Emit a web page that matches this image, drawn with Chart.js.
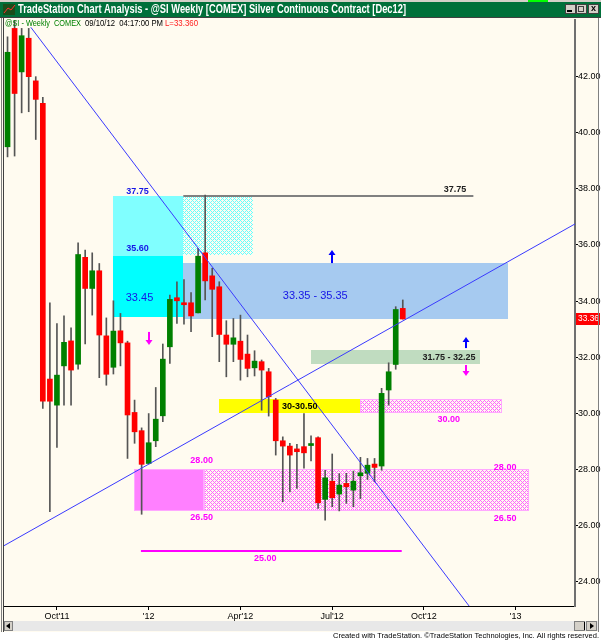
<!DOCTYPE html>
<html>
<head>
<meta charset="utf-8">
<title>@SI Weekly</title>
<script src="https://cdn.jsdelivr.net/npm/chart.js@4.4.0/dist/chart.umd.min.js"></script>
<style>
    html, body { margin: 0; padding: 0; background: #ffffff; }
    canvas { display: block; }
</style>
</head>
<body>
<canvas id="chart" width="601" height="640"></canvas>
<script>
"use strict";

// Weekly bars for @SI, index 0 = week of 15 Aug 2011, last = week of 10 Sep 2012
const opens = [39.50, 43.72, 42.17, 43.37, 41.85, 41.05, 31.22, 30.29, 31.69, 32.58,
    31.75, 35.56, 34.45, 35.08, 32.76, 31.64, 32.94, 32.51, 30.03, 29.38,
    28.21, 29.02, 29.91, 32.37, 34.12, 33.94, 33.94, 33.58, 35.72, 34.90,
    34.51, 32.79, 32.46, 32.57, 32.11, 31.62, 31.84, 31.48, 30.47, 29.02,
    28.83, 28.73, 28.81, 28.85, 29.13, 26.93, 27.58, 27.12, 27.50, 27.26,
    27.77, 27.86, 28.19, 28.12, 30.83, 31.74, 33.74];
const highs = [43.42, 44.00, 43.72, 43.72, 42.00, 41.26, 33.94, 33.20, 33.47, 33.05,
    36.08, 35.82, 35.72, 35.34, 33.40, 34.01, 33.56, 32.57, 30.47, 29.48,
    29.99, 30.92, 32.47, 34.21, 34.69, 34.77, 34.30, 35.88, 37.78, 35.17,
    34.69, 33.30, 33.38, 33.50, 32.79, 32.23, 31.90, 31.60, 30.53, 29.16,
    28.93, 28.89, 29.99, 29.20, 29.16, 27.97, 28.55, 27.85, 27.86, 27.94,
    28.43, 28.39, 28.39, 30.89, 31.80, 33.80, 34.04];
const lows = [39.14, 39.17, 40.71, 40.75, 39.76, 30.17, 26.49, 28.78, 30.29, 30.29,
    31.57, 32.47, 33.50, 31.27, 31.00, 31.40, 31.69, 28.39, 28.93, 26.40,
    28.19, 28.81, 29.70, 31.78, 33.20, 33.18, 32.91, 33.58, 34.04, 32.73,
    31.84, 31.30, 31.84, 31.18, 31.30, 31.33, 30.11, 29.90, 28.51, 26.85,
    27.20, 27.32, 28.04, 28.30, 26.61, 26.19, 26.67, 26.52, 26.79, 26.67,
    26.96, 27.64, 27.56, 27.97, 30.29, 31.57, 33.36];
const closes = [42.87, 41.40, 43.46, 42.00, 41.19, 30.43, 30.43, 31.36, 32.53, 31.54,
    35.66, 34.45, 35.08, 32.79, 31.39, 32.93, 32.51, 29.94, 29.34, 28.18,
    28.95, 29.79, 31.93, 34.06, 34.01, 33.87, 33.47, 35.60, 34.72, 34.42,
    32.81, 32.46, 32.69, 31.92, 31.60, 31.86, 31.54, 30.59, 29.02, 28.83,
    28.51, 28.63, 28.59, 28.87, 26.81, 27.70, 26.99, 27.44, 27.38, 27.58,
    27.88, 28.15, 28.07, 30.71, 31.48, 33.70, 33.36];

// Axis ticks (x in week index)
const xTickWeeks = [7, 20, 33, 46, 59, 72];
const xTickLabels = ["Oct'11", "'12", "Apr'12", "Jul'12", "Oct'12", "'13"];
const yTicks = [24, 26, 28, 30, 32, 34, 36, 38, 40, 42];

// Trend lines, [week, price]
const downTrend = [[3.3, 43.76], [70, 21.6]];
const upTrend = [[-0.5, 25.28], [80.4, 36.75]];

// Price levels of the zones
const cyanLevels = [37.75, 35.60, 33.45];
const resistZone = [33.35, 35.35];
const pivotZone = [31.75, 32.25];
const yellowZone = [30.00, 30.50];
const supportZone = [26.50, 28.00];
const topLine = 37.75;
const bottomLine = 25.10;
const lastPrice = 33.36;

const weeks = opens.map((_, i) => i);

// Rectangles: week span + price span
const zones = [
    { from: 15.0, to: 24.9, low: cyanLevels[1], high: cyanLevels[0], fill: "#80ffff" },
    { from: 15.0, to: 24.9, low: cyanLevels[2], high: cyanLevels[1], fill: "#00ffff" },
    { from: 24.9, to: 34.8, low: 35.65, high: cyanLevels[0], fill: "cyanHatch" },
    { from: 24.9, to: 70.95, low: resistZone[0], high: resistZone[1], fill: "#a6caf0" },
    { from: 43.0, to: 66.9, low: pivotZone[0], high: pivotZone[1], fill: "#c0dcc0" },
    { from: 30.0, to: 49.9, low: yellowZone[0], high: yellowZone[1], fill: "#ffff00" },
    { from: 49.9, to: 70.0, low: yellowZone[0], high: yellowZone[1], fill: "pinkHatch" },
    { from: 17.96, to: 27.9, low: supportZone[0], high: supportZone[1], fill: "#ff80ff" },
    { from: 27.9, to: 73.9, low: supportZone[0], high: supportZone[1], fill: "pinkHatch" }
];

const levelLines = [
    { from: 24.9, to: 66.0, price: topLine, color: "#808080", width: 2 },
    { from: 18.9, to: 55.85, price: bottomLine, color: "#ff00ff", width: 2 }
];

// Text notes: week, price, pixel nudge, baseline
const notes = [
    { text: "37.75", x: 18.4, p: cyanLevels[0], dy: 0, base: "bottom", color: "#1515e6", font: "bold 9px" },
    { text: "35.60", x: 18.4, p: cyanLevels[1], dy: -3, base: "bottom", color: "#1515e6", font: "bold 9px" },
    { text: "33.45", x: 18.7, p: 34.11, dy: 0, base: "middle", color: "#1515e6", font: "11px" },
    { text: "33.35 - 35.35", x: 43.6, p: 34.18, dy: 0, base: "middle", color: "#1515e6", font: "11px" },
    { text: "37.75", x: 63.4, p: topLine, dy: -2, base: "bottom", color: "#202020", font: "bold 9px" },
    { text: "31.75 - 32.25", x: 62.55, p: 32.0, dy: 0, base: "middle", color: "#202020", font: "bold 9px" },
    { text: "30-30.50", x: 41.4, p: 30.25, dy: 0, base: "middle", color: "#000000", font: "bold 9px" },
    { text: "30.00", x: 62.5, p: yellowZone[0], dy: 2, base: "top", color: "#ff00ff", font: "bold 9px" },
    { text: "28.00", x: 27.5, p: supportZone[1], dy: -4, base: "bottom", color: "#ff00ff", font: "bold 9px" },
    { text: "26.50", x: 27.5, p: supportZone[0], dy: 2, base: "top", color: "#ff00ff", font: "bold 9px" },
    { text: "28.00", x: 70.5, p: supportZone[1], dy: -2, base: "middle", color: "#ff00ff", font: "bold 9px" },
    { text: "26.50", x: 70.5, p: supportZone[0], dy: 7, base: "middle", color: "#ff00ff", font: "bold 9px" },
    { text: "25.00", x: 36.5, p: bottomLine, dy: 3, base: "top", color: "#ff00ff", font: "bold 9px" }
];

// Arrows: week, from price -> to price
const arrows = [
    { x: 46.0, from: 35.39, to: 35.82, color: "#0000ff" },
    { x: 64.96, from: 32.36, to: 32.72, color: "#0000ff" },
    { x: 64.96, from: 31.72, to: 31.33, color: "#ff00ff" },
    { x: 20.0, from: 32.90, to: 32.43, color: "#ff00ff" }
];

const FONT = "'Liberation Sans', Arial, sans-serif";

function makeHatch(color) {
    const c = document.createElement("canvas");
    c.width = 4;
    c.height = 4;
    const g = c.getContext("2d");
    g.fillStyle = "#fffbf0";
    g.fillRect(0, 0, 4, 4);
    g.fillStyle = color;
    for (let y = 0; y < 4; y++) {
        for (let x = 0; x < 4; x++) {
            if ((x + y) % 4 === 0 || (x - y + 4) % 4 === 0) g.fillRect(x, y, 1, 1);
        }
    }
    return c;
}

const overlays = {
    id: "overlays",
    beforeDraw(chart) {
        const ctx = chart.ctx;
        ctx.save();
        ctx.fillStyle = "#ffffff";
        ctx.fillRect(0, 0, chart.width, chart.height);
        ctx.fillStyle = "#fffbf0";
        ctx.fillRect(0, 18, 599, 614);
        ctx.restore();
    },
    beforeDatasetsDraw(chart) {
        const ctx = chart.ctx;
        const xs = chart.scales.x;
        const ys = chart.scales.y;
        const patterns = {
            pinkHatch: ctx.createPattern(makeHatch("#ff66ff"), "repeat"),
            cyanHatch: ctx.createPattern(makeHatch("#66ffff"), "repeat")
        };
        ctx.save();
        zones.forEach(z => {
            const x0 = Math.round(xs.getPixelForValue(z.from));
            const x1 = Math.round(xs.getPixelForValue(z.to));
            const y0 = Math.round(ys.getPixelForValue(z.high));
            const y1 = Math.round(ys.getPixelForValue(z.low));
            ctx.fillStyle = patterns[z.fill] || z.fill;
            ctx.fillRect(x0, y0, x1 - x0, y1 - y0);
            if (z.fill === "pinkHatch" || z.fill === "#ff80ff") {
                ctx.strokeStyle = "#ffa8ff";
                ctx.lineWidth = 1;
                ctx.strokeRect(x0 + 0.5, y0 + 0.5, x1 - x0 - 1, y1 - y0 - 1);
            }
        });
        levelLines.forEach(l => {
            const y = Math.round(ys.getPixelForValue(l.price)) + (l.width % 2 ? 0.5 : 0);
            ctx.strokeStyle = l.color;
            ctx.lineWidth = l.width;
            ctx.beginPath();
            ctx.moveTo(xs.getPixelForValue(l.from), y);
            ctx.lineTo(xs.getPixelForValue(l.to), y);
            ctx.stroke();
        });
        ctx.restore();
    },
    afterDatasetsDraw(chart) {
        const ctx = chart.ctx;
        const xs = chart.scales.x;
        const ys = chart.scales.y;
        ctx.save();
        notes.forEach(n => {
            ctx.font = n.font + " " + FONT;
            ctx.fillStyle = n.color;
            ctx.textAlign = "center";
            ctx.textBaseline = n.base;
            ctx.fillText(n.text, xs.getPixelForValue(n.x), ys.getPixelForValue(n.p) + n.dy);
        });
        arrows.forEach(a => {
            const x = Math.round(xs.getPixelForValue(a.x));
            const y0 = ys.getPixelForValue(a.from);
            const y1 = ys.getPixelForValue(a.to);
            const dir = y1 < y0 ? -1 : 1;
            ctx.fillStyle = a.color;
            ctx.fillRect(x - 1, Math.min(y0, y1 - dir * 4), 2, Math.abs(y1 - y0) - 3);
            ctx.beginPath();
            ctx.moveTo(x, y1);
            ctx.lineTo(x - 3.5, y1 - dir * 5);
            ctx.lineTo(x + 3.5, y1 - dir * 5);
            ctx.closePath();
            ctx.fill();
        });
        ctx.restore();
    },
    afterDraw(chart) {
        const ctx = chart.ctx;
        const ys = chart.scales.y;
        ctx.save();

        // title bar
        ctx.fillStyle = "#d4d0c8";
        ctx.fillRect(0, 0, 601, 2);
        ctx.fillStyle = "#00703a";
        ctx.fillRect(0, 2, 601, 15);
        ctx.fillStyle = "#00ff00";
        ctx.fillRect(528, 0, 20, 2);
        ctx.fillStyle = "#404040";
        ctx.fillRect(0, 17, 601, 1);
        ctx.fillStyle = "#1a4d1a";
        ctx.fillRect(3, 4, 12, 11);
        ctx.strokeStyle = "#ff3030";
        ctx.lineWidth = 1;
        ctx.beginPath();
        ctx.moveTo(4, 13);
        ctx.lineTo(8, 8);
        ctx.lineTo(11, 10);
        ctx.lineTo(15, 5);
        ctx.stroke();
        ctx.font = "bold 12px " + FONT;
        ctx.fillStyle = "#ffffff";
        ctx.textAlign = "left";
        ctx.textBaseline = "middle";
        ctx.fillText("TradeStation Chart Analysis - @SI Weekly [COMEX] Silver Continuous Contract [Dec12]", 18, 10, 388);
        [565, 576, 588].forEach((bx, i) => {
            ctx.fillStyle = "#d4d0c8";
            ctx.fillRect(bx, 4, 10, 9);
            ctx.strokeStyle = "#404040";
            ctx.strokeRect(bx + 0.5, 4.5, 10, 9);
            ctx.fillStyle = "#000000";
            if (i === 0) ctx.fillRect(bx + 2, 10, 5, 2);
            if (i === 1) ctx.strokeRect(bx + 2.5, 6.5, 5, 5);
            if (i === 2) {
                ctx.font = "bold 9px " + FONT;
                ctx.textAlign = "center";
                ctx.fillText("x", bx + 5.5, 9);
            }
        });

        // header line inside the plot
        ctx.font = "9px " + FONT;
        ctx.textAlign = "left";
        ctx.textBaseline = "middle";
        ctx.fillStyle = "#008000";
        ctx.fillText("@SI - Weekly  COMEX", 5, 24, 76);
        ctx.fillStyle = "#000000";
        ctx.fillText("09/10/12  04:17:00 PM", 85, 24, 78);
        ctx.fillStyle = "#ff2020";
        ctx.fillText("L=33.360", 165, 24, 33);

        // last price tag
        const ly = Math.round(ys.getPixelForValue(lastPrice));
        ctx.fillStyle = "#ff0000";
        ctx.fillRect(576, ly - 6, 24, 12);
        ctx.fillStyle = "#ffffff";
        ctx.font = "9px " + FONT;
        ctx.fillText("33.36", 578, ly, 21);

        // frame, scrollbar, footer
        ctx.fillStyle = "#808080";
        ctx.fillRect(1, 18, 1, 614);
        ctx.fillStyle = "#404040";
        ctx.fillRect(3, 18, 1, 614);
        ctx.fillStyle = "#808080";
        ctx.fillRect(598, 18, 1, 614);
        ctx.fillStyle = "#e8e8e8";
        ctx.fillRect(4, 621, 594, 10);
        ctx.fillStyle = "#d4d0c8";
        ctx.fillRect(4, 621, 9, 10);
        ctx.fillRect(586, 621, 11, 10);
        ctx.fillRect(574, 621, 11, 10);
        ctx.strokeStyle = "#808080";
        ctx.strokeRect(4.5, 621.5, 8, 9);
        ctx.strokeRect(586.5, 621.5, 10, 9);
        ctx.strokeRect(574.5, 621.5, 10, 9);
        ctx.fillStyle = "#000000";
        ctx.beginPath();
        ctx.moveTo(6, 626); ctx.lineTo(10, 623); ctx.lineTo(10, 629); ctx.closePath(); ctx.fill();
        ctx.beginPath();
        ctx.moveTo(594, 626); ctx.lineTo(590, 623); ctx.lineTo(590, 629); ctx.closePath(); ctx.fill();
        ctx.fillRect(584, 622, 1, 8);
        ctx.fillStyle = "#ffffff";
        ctx.fillRect(0, 632, 601, 8);
        ctx.fillStyle = "#000000";
        ctx.font = "8px " + FONT;
        ctx.textAlign = "right";
        ctx.fillText("Created with TradeStation. \u00A9TradeStation Technologies, Inc. All rights reserved.", 599, 636, 266);
        ctx.restore();
    }
};

const toPoints = line => line.map(([x, y]) => ({ x, y }));

const ctx = document.getElementById("chart");
new Chart(ctx, {
    type: "bar",
    data: {
        datasets: [
            {
                type: "line",
                data: toPoints(downTrend),
                borderColor: "#3a3aff",
                borderWidth: 1,
                pointRadius: 0,
                order: 1
            },
            {
                type: "line",
                data: toPoints(upTrend),
                borderColor: "#3a3aff",
                borderWidth: 1,
                pointRadius: 0,
                order: 1
            },
            {
                data: weeks.map(i => ({ x: i, y: [opens[i], closes[i]] })),
                backgroundColor: weeks.map(i => closes[i] >= opens[i] ? "#008000" : "#ff0000"),
                barThickness: 5,
                minBarLength: 2,
                grouped: false,
                order: 2
            },
            {
                data: weeks.map(i => ({ x: i, y: [lows[i], highs[i]] })),
                backgroundColor: "#555555",
                barThickness: 1,
                grouped: false,
                order: 3
            }
        ]
    },
    options: {
        responsive: false,
        animation: false,
        devicePixelRatio: 1,
        layout: { padding: { top: 20, left: 4, right: 0, bottom: 0 } },
        plugins: {
            legend: { display: false },
            tooltip: { enabled: false }
        },
        scales: {
            x: {
                type: "linear",
                position: "bottom",
                offset: false,
                min: -0.5,
                max: 80.4,
                afterFit: scale => { scale.height = 34; },
                afterBuildTicks: scale => { scale.ticks = xTickWeeks.map(v => ({ value: v })); },
                ticks: {
                    autoSkip: false,
                    maxRotation: 0,
                    padding: 1,
                    color: "#000000",
                    font: { family: FONT, size: 9 },
                    callback: (v, i) => xTickLabels[i]
                },
                grid: { drawOnChartArea: false, offset: false, tickLength: 4, color: "#000000" },
                border: { color: "#000000", width: 1 }
            },
            y: {
                type: "linear",
                position: "right",
                min: 23.13,
                max: 44.02,
                afterFit: scale => { scale.width = 26; },
                afterBuildTicks: scale => { scale.ticks = yTicks.map(v => ({ value: v })); },
                ticks: {
                    padding: 0,
                    color: "#000000",
                    font: { family: FONT, size: 9 },
                    callback: v => v.toFixed(2)
                },
                grid: { drawOnChartArea: false, tickLength: 3, color: "#000000" },
                border: { color: "#707070", width: 2 }
            }
        }
    },
    plugins: [overlays]
});
</script>
</body>
</html>
